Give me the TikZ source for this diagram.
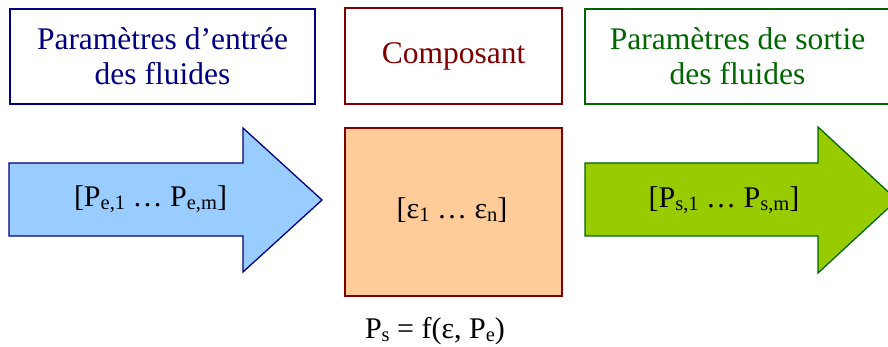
\documentclass[tikz,border=0pt]{standalone}
\usepackage{fontspec}
\setmainfont{Liberation Serif}
\definecolor{navyc}{HTML}{000080}
\definecolor{maroonc}{HTML}{800000}
\definecolor{greenc}{HTML}{006600}
\definecolor{bluefill}{HTML}{99CCFF}
\definecolor{orangefill}{HTML}{FFCC99}
\definecolor{greenfill}{HTML}{99CC00}
\newcommand\lowsub[1]{\raisebox{-0.1em}{\fontsize{20.5}{20.5}\selectfont #1}}
\tikzset{
  titlebox/.style={draw, line width=1.3pt, align=center, inner sep=0pt,
    font=\fontsize{31.5}{35}\selectfont},
  arrowshape/.style={line width=1.3pt, line join=miter},
  label30/.style={font=\fontsize{30}{34}\selectfont, inner sep=0pt}
}
\begin{document}
\begin{tikzpicture}[x=1pt,y=-1pt]
\useasboundingbox (0,0) rectangle (888,347);
\clip (0,0) rectangle (888,347);
% title boxes
\node[titlebox, draw=navyc, text=navyc, minimum width=305pt, minimum height=95pt] (inbox) at (162.5,56.5) {Paramètres d’entrée\\des fluides};
\node[titlebox, draw=maroonc, text=maroonc, minimum width=217pt, minimum height=96pt] (compbox) at (453.5,56) {Composant};
\node[titlebox, draw=greenc, text=greenc, minimum width=305pt, minimum height=95pt] (outbox) at (737.5,56.5) {Paramètres de sortie\\des fluides};
% input arrow
\draw[arrowshape, draw=navyc, fill=bluefill] (9,163) -- (243,163) -- (243,128) -- (322,200) -- (243,272) -- (243,236) -- (9,236) -- cycle;
\node[label30] (inlbl) at (150.5,199) {[P\lowsub{e,1} … P\lowsub{e,m}]};
% component
\node[draw=maroonc, fill=orangefill, line width=1.3pt, minimum width=217pt, minimum height=168pt, inner sep=0pt] (comp) at (453.5,212) {};
\node[label30] (complbl) at (452,210) {[ε\lowsub{1} … ε\lowsub{n}]};
% output arrow
\draw[arrowshape, draw=greenc, fill=greenfill] (585,163) -- (818,163) -- (818,127) -- (897,200) -- (818,273) -- (818,236) -- (585,236) -- cycle;
\node[label30] (outlbl) at (724,200) {[P\lowsub{s,1} … P\lowsub{s,m}]};
% formula
\node[label30] (formula) at (435,331) {P\lowsub{s} = f(ε, P\lowsub{e})};
\end{tikzpicture}
\end{document}
